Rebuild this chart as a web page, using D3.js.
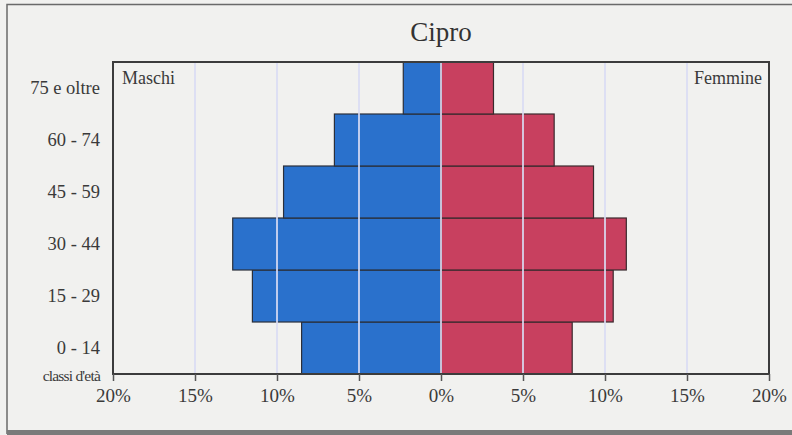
<!DOCTYPE html>
<html>
<head>
<meta charset="utf-8">
<script src="https://d3js.org/d3.v7.min.js"></script>
<style>
  body { margin: 0; background: #f1f1ef; }
  svg { display: block; }
</style>
</head>
<body>
<div id="chart"></div>
<script>
// DATA
var ageGroups = ["0 - 14", "15 - 29", "30 - 44", "45 - 59", "60 - 74", "75 e oltre"];
var maschi = [8.5, 11.5, 12.7, 9.6, 6.5, 2.3];
var femmine = [8.0, 10.5, 11.3, 9.3, 6.9, 3.2];
var tickValues = [-20, -15, -10, -5, 0, 5, 10, 15, 20];

var W = 792, H = 435;
var margin = {top: 62, right: 23, bottom: 61, left: 113},
    width = W - margin.left - margin.right,
    height = H - margin.top - margin.bottom;

var font = "'Liberation Serif', 'DejaVu Serif', serif";

var svg = d3.select("#chart")
  .append("svg")
    .attr("width", W)
    .attr("height", H);

// paper + outer frame
svg.append("rect")
  .attr("x", 0).attr("y", 0).attr("width", W).attr("height", H)
  .attr("fill", "#f1f1ef");
svg.append("path")
  .attr("d", "M7,434 L7,4.5 L792,4.5")
  .attr("fill", "none").attr("stroke", "#6a6a6a").attr("stroke-width", 1.5);
svg.append("rect")
  .attr("x", 7).attr("y", 430).attr("width", W).attr("height", 5)
  .attr("fill", "#7a7a7a");

var g = svg.append("g")
  .attr("transform", "translate(" + margin.left + "," + margin.top + ")");

var x = d3.scaleLinear().domain([-20, 20]).range([0, width]);
var y = d3.scaleBand().domain(ageGroups.slice().reverse()).range([0, height]).padding(0);

// bars
g.selectAll(".m")
  .data(ageGroups)
  .enter().append("rect")
    .attr("x", function(d, i) { return x(-maschi[i]); })
    .attr("y", function(d) { return y(d); })
    .attr("width", function(d, i) { return x(0) - x(-maschi[i]); })
    .attr("height", y.bandwidth())
    .attr("fill", "#2a71cc")
    .attr("stroke", "#2b2f3a")
    .attr("stroke-width", 1.2);

g.selectAll(".f")
  .data(ageGroups)
  .enter().append("rect")
    .attr("x", x(0))
    .attr("y", function(d) { return y(d); })
    .attr("width", function(d, i) { return x(femmine[i]) - x(0); })
    .attr("height", y.bandwidth())
    .attr("fill", "#c8405f")
    .attr("stroke", "#3a2a2e")
    .attr("stroke-width", 1.2);

// grid lines drawn over the bars
g.selectAll(".grid")
  .data(tickValues.filter(function(d) { return Math.abs(d) < 20; }))
  .enter().append("line")
    .attr("x1", function(d) { return x(d); })
    .attr("x2", function(d) { return x(d); })
    .attr("y1", 1).attr("y2", height - 1)
    .attr("stroke", "#d9dcf3")
    .attr("stroke-opacity", 0.85)
    .attr("stroke-width", 2);

// plot frame
g.append("rect")
  .attr("x", 0).attr("y", 0).attr("width", width).attr("height", height)
  .attr("fill", "none").attr("stroke", "#3c3c3c").attr("stroke-width", 2);

// x axis
var xAxis = d3.axisBottom(x)
  .tickValues(tickValues)
  .tickSize(7)
  .tickPadding(8)
  .tickFormat(function(d) { return Math.abs(d) + "%"; });

var ax = g.append("g")
  .attr("transform", "translate(0," + height + ")")
  .call(xAxis);
ax.select(".domain").remove();
ax.selectAll("line").attr("stroke", "#555").attr("stroke-width", 1.5);
ax.selectAll("text")
  .attr("font-family", font)
  .attr("font-size", 19)
  .attr("fill", "#3a3a3a");

// y labels
g.selectAll(".ylab")
  .data(ageGroups)
  .enter().append("text")
    .attr("x", -13)
    .attr("y", function(d) { return y(d) + y.bandwidth() / 2; })
    .attr("dy", "0.35em")
    .attr("text-anchor", "end")
    .attr("font-family", font)
    .attr("font-size", 18.5)
    .attr("fill", "#3a3a3a")
    .text(function(d) { return d; });

g.append("text")
  .attr("x", -13).attr("y", height + 7)
  .attr("text-anchor", "end")
  .attr("font-family", font)
  .attr("font-size", 15.5)
  .attr("letter-spacing", -0.8)
  .attr("fill", "#3a3a3a")
  .text("classi d'età");

// series labels
g.append("text")
  .attr("x", 9).attr("y", 22)
  .attr("font-family", font).attr("font-size", 18).attr("fill", "#3a3a3a")
  .text("Maschi");
g.append("text")
  .attr("x", width - 7).attr("y", 22)
  .attr("text-anchor", "end")
  .attr("font-family", font).attr("font-size", 18).attr("fill", "#3a3a3a")
  .text("Femmine");

// title
svg.append("text")
  .attr("x", margin.left + x(0)).attr("y", 41)
  .attr("text-anchor", "middle")
  .attr("font-family", font).attr("font-size", 27).attr("fill", "#333")
  .text("Cipro");
</script>
</body>
</html>
